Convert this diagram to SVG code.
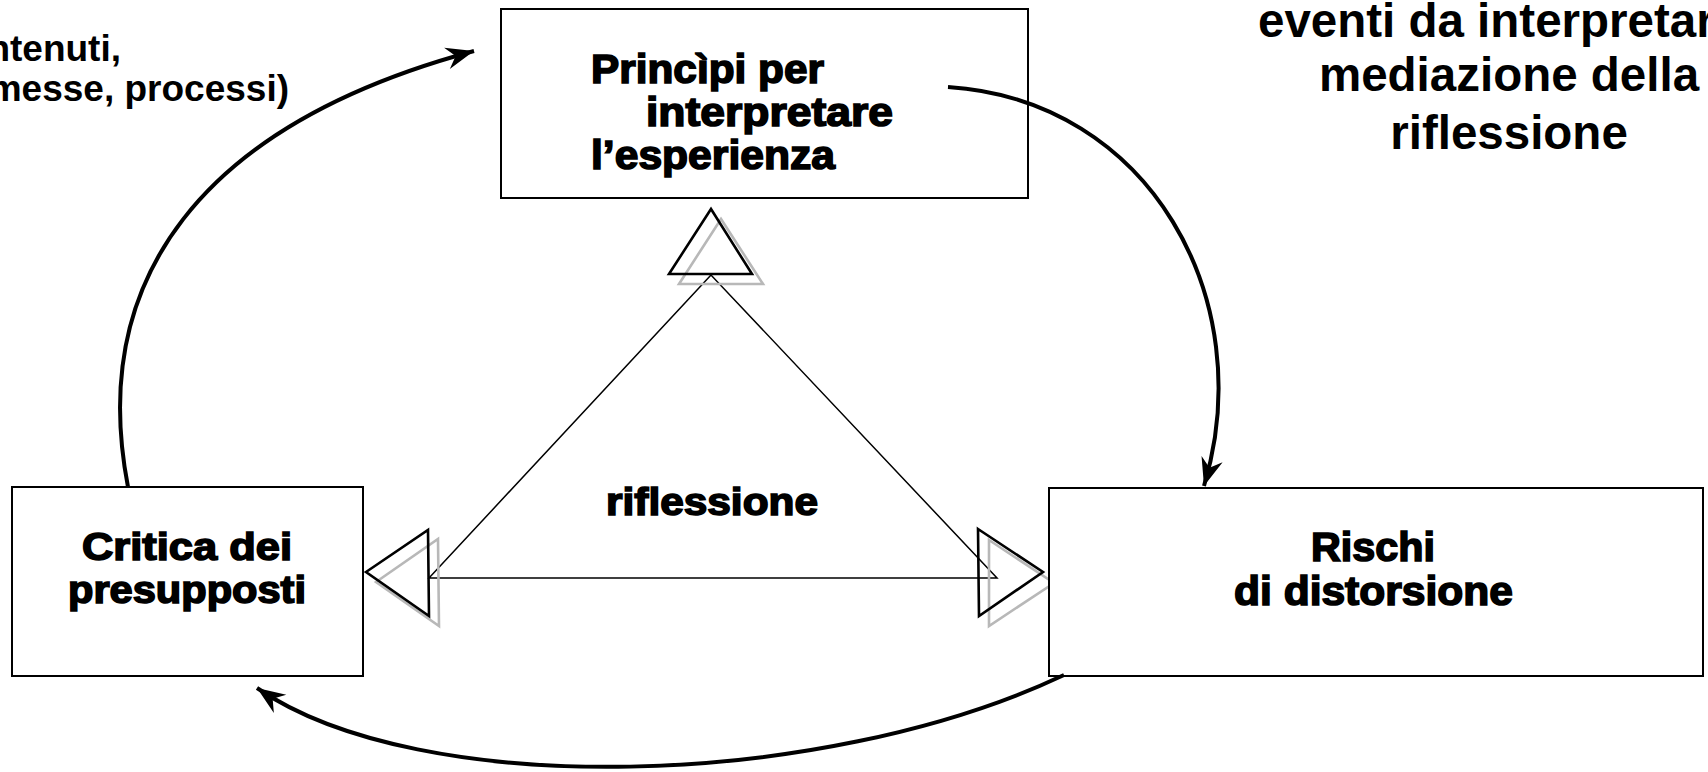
<svg xmlns="http://www.w3.org/2000/svg" width="1708" height="772" viewBox="0 0 1708 772">
<style>
.box{fill:#fff;stroke:#000;stroke-width:2}
.heavy{font-family:"Liberation Sans",Arial,sans-serif;font-weight:bold;fill:#000;stroke:#000;stroke-width:1.6}
.plain{font-family:"Liberation Sans",Arial,sans-serif;font-weight:bold;fill:#000}
.curve{fill:none;stroke:#000;stroke-width:4}
.thin{fill:none;stroke:#000;stroke-width:1.5}
.tri{fill:none;stroke:#000;stroke-width:2.6;stroke-linejoin:miter}
.shadow{fill:none;stroke:#b8b8b8;stroke-width:2.6}
</style>
<defs>
<marker id="ah" viewBox="-30 -12 32 24" refX="0" refY="0" markerWidth="32" markerHeight="24" markerUnits="userSpaceOnUse" orient="auto">
<path d="M0,0 L-28,-11 L-19,0 L-28,11 Z" fill="#000"/>
</marker>
</defs>
<rect width="1708" height="772" fill="#fff"/>

<g id="text-top-left">
<text class="plain" font-size="37" x="121" y="61" text-anchor="end">ntenuti,</text>
<text class="plain" font-size="37" x="289" y="101" text-anchor="end">messe, processi)</text>
</g>

<g id="text-top-right">
<text class="plain" font-size="47.5" x="1258" y="37">eventi da interpretar</text>
<text class="plain" font-size="47.5" x="1509" y="91" text-anchor="middle">mediazione della</text>
<text class="plain" font-size="47.5" x="1509" y="149" text-anchor="middle">riflessione</text>
</g>

<g id="triangle">
<path class="thin" d="M711,275 L429,578 L997,578 Z"/>
<polygon class="shadow" points="721,219 679,284 763,284"/>
<polygon class="tri" points="711,209 669,274 752,274"/>
<polygon class="shadow" points="376,582 438,539 439,626"/>
<polygon class="tri" points="366,572 428,530 429,616"/>
<polygon class="shadow" points="989,540 1054,583 989,626"/>
<polygon class="tri" points="978,529 1043,572 979,616"/>
</g>

<g id="node-principi">
<rect class="box" x="501" y="9" width="527" height="189"/>
<text class="heavy" font-size="40" x="591" y="83" textLength="233" lengthAdjust="spacingAndGlyphs">Princìpi per</text>
<text class="heavy" font-size="40" x="646" y="126" textLength="247" lengthAdjust="spacingAndGlyphs">interpretare</text>
<text class="heavy" font-size="40" x="591" y="169" textLength="244" lengthAdjust="spacingAndGlyphs">l’esperienza</text>
</g>

<g id="node-critica">
<rect class="box" x="12" y="487" width="351" height="189"/>
<text class="heavy" font-size="38" x="82" y="560" textLength="210" lengthAdjust="spacingAndGlyphs">Critica dei</text>
<text class="heavy" font-size="38" x="68" y="603" textLength="238" lengthAdjust="spacingAndGlyphs">presupposti</text>
</g>

<g id="node-rischi">
<rect class="box" x="1049" y="488" width="654" height="188"/>
<text class="heavy" font-size="40" x="1311" y="561" textLength="124" lengthAdjust="spacingAndGlyphs">Rischi</text>
<text class="heavy" font-size="40" x="1234" y="605" textLength="279" lengthAdjust="spacingAndGlyphs">di distorsione</text>
</g>

<g id="node-riflessione">
<text class="heavy" font-size="38" x="606" y="515" textLength="212" lengthAdjust="spacingAndGlyphs">riflessione</text>
</g>

<g id="connectors">
<path class="curve" d="M128,487 C88,280 200,125 474,51" marker-end="url(#ah)"/>
<path class="curve" d="M948,87 C1150,100 1260,300 1204,486" marker-end="url(#ah)"/>
<path class="curve" d="M1064,675 C820,790 420,800 257,688" marker-end="url(#ah)"/>
</g>
</svg>
